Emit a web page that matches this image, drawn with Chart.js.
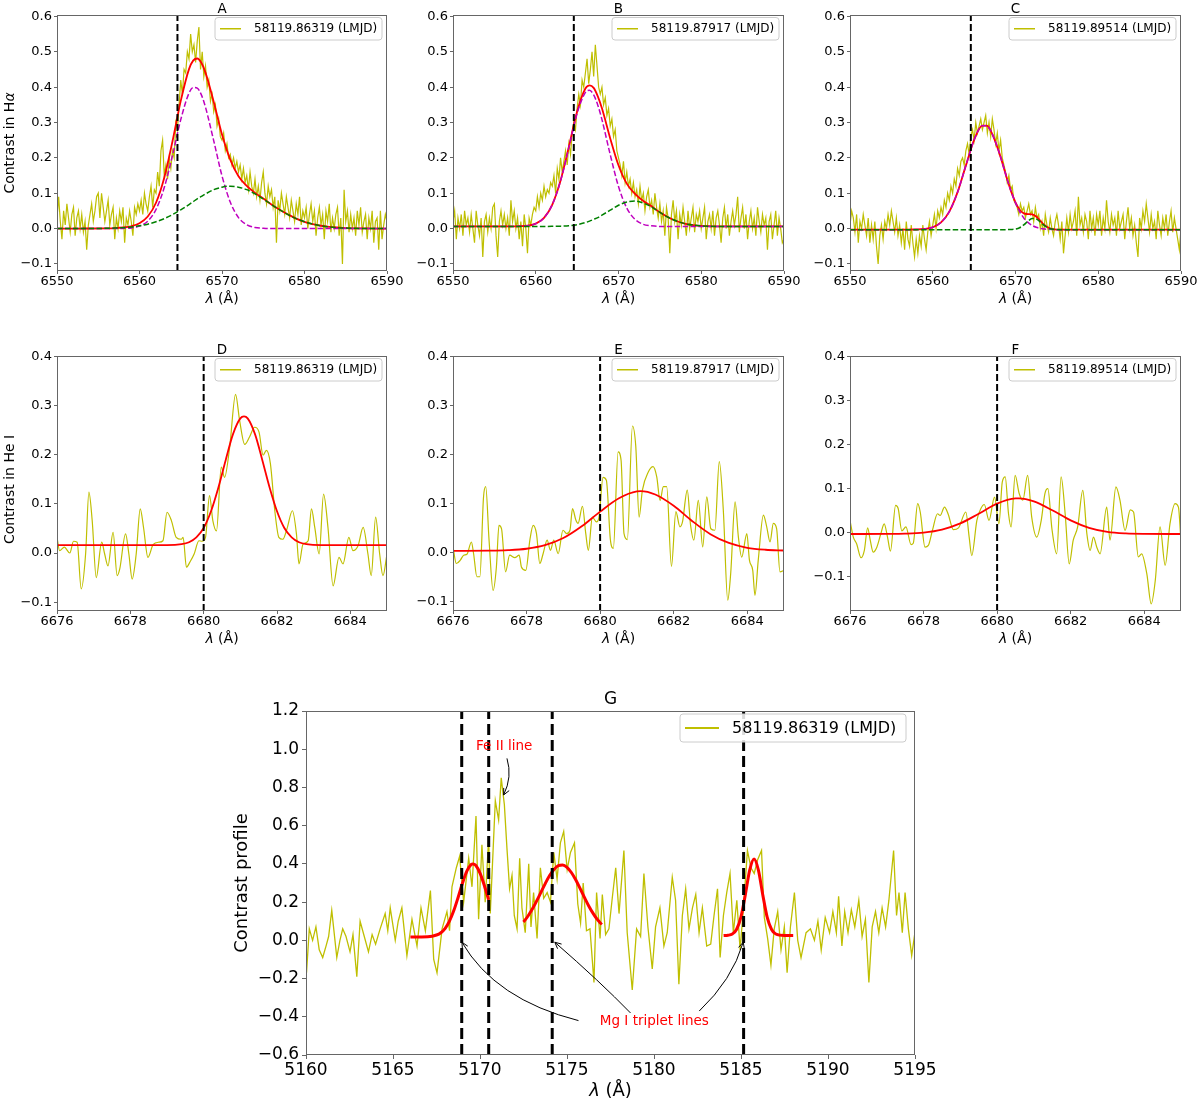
<!DOCTYPE html>
<html><head><meta charset="utf-8">
<script src="https://cdn.jsdelivr.net/npm/chart.js@4.4.1/dist/chart.umd.min.js"></script>
<style>html,body{margin:0;padding:0;background:#fff;overflow:hidden}#fig{position:relative;width:1200px;height:1105px;background:#fff}</style>
</head><body><div id="fig"></div>
<script>
// ---------------- DATA ----------------
const legendText = ['58119.86319 (LMJD)', '58119.87917 (LMJD)', '58119.89514 (LMJD)'];
const titles = ['A','B','C','D','E','F','G'];

// H-alpha panels: contrast sampled every 0.2 Å starting at 6550 Å
const haStart = 6550, haStep = 0.2;
const haA = [
 0.03,0.09,0.02,-0.03,0.05,0.01,0.07,0.03,-0.01,0.04,
 0.06,-0.02,0.03,0.05,0.0,0.04,-0.01,0.02,-0.06,0.01,
 0.04,0.07,0.02,0.05,0.09,0.1,0.03,0.1,0.06,0.02,
 0.05,0.08,0.01,0.04,0.06,-0.03,0.03,0.0,0.05,0.02,
 0.06,-0.04,0.03,0.01,0.05,0.02,-0.02,0.06,0.04,0.07,
 0.05,0.08,0.04,0.1,0.07,0.05,0.09,0.12,0.06,0.11,
 0.1,0.16,0.12,0.22,0.25,0.15,0.18,0.14,0.2,0.17,
 0.22,0.2,0.3,0.28,0.35,0.42,0.38,0.45,0.44,0.5,
 0.48,0.55,0.5,0.52,0.47,0.53,0.57,0.45,0.5,0.43,
 0.46,0.4,0.42,0.36,0.38,0.33,0.35,0.29,0.31,0.26,
 0.25,0.27,0.22,0.24,0.2,0.21,0.18,0.2,0.17,0.19,
 0.16,0.18,0.14,0.17,0.13,0.15,0.11,0.16,0.12,0.1,
 0.14,0.09,0.12,0.08,0.13,0.16,0.1,0.07,0.12,0.09,
 0.11,0.06,0.09,-0.04,0.08,0.05,0.1,0.07,0.04,0.09,
 0.06,0.03,0.08,0.05,0.02,0.07,0.04,0.09,0.01,0.05,
 0.03,0.06,0.0,0.04,0.07,0.02,0.05,-0.02,0.03,0.06,
 0.01,0.04,-0.03,0.05,0.02,0.07,-0.01,0.03,0.0,0.04,
 0.06,-0.02,0.03,-0.1,0.11,0.02,0.05,-0.01,0.04,0.0,
 0.03,-0.02,0.05,0.01,0.06,-0.01,0.02,0.04,-0.03,0.03,
 0.0,0.05,-0.04,0.02,0.03,-0.06,0.05,-0.03,0.01,0.04,
 0.02];
const haB = [
 0.02,0.05,-0.03,0.03,0.0,0.04,-0.02,0.05,0.01,0.03,
 -0.01,0.04,0.0,-0.04,0.05,0.01,-0.02,0.03,-0.08,0.02,
 0.04,-0.01,0.03,0.0,0.06,0.07,-0.02,-0.08,0.02,0.05,
 0.01,0.04,0.0,0.03,-0.02,0.08,0.02,0.05,0.0,0.03,
 -0.03,0.02,-0.05,0.04,0.0,-0.07,0.03,0.01,0.04,0.06,
 0.05,0.09,0.06,0.1,0.08,0.12,0.09,0.11,0.1,0.13,
 0.12,0.15,0.1,0.17,0.14,0.2,0.16,0.19,0.22,0.18,
 0.24,0.21,0.27,0.3,0.28,0.34,0.38,0.35,0.42,0.4,
 0.44,0.48,0.41,0.45,0.5,0.43,0.52,0.46,0.4,0.38,
 0.4,0.35,0.37,0.32,0.34,0.29,0.31,0.26,0.28,0.22,
 0.2,0.18,0.15,0.19,0.13,0.16,0.12,0.14,0.1,0.13,
 0.09,0.11,0.07,0.12,0.08,0.1,0.05,0.09,0.11,0.06,
 0.08,0.04,0.1,0.06,0.03,0.07,0.02,0.05,-0.02,0.06,
 0.03,-0.07,0.04,0.08,0.02,0.05,-0.03,0.04,0.01,0.06,
 0.02,-0.02,0.05,0.0,0.03,0.06,-0.01,0.04,0.02,0.05,
 0.0,0.03,0.06,-0.03,0.02,0.04,0.0,0.05,-0.02,0.03,
 0.05,0.01,-0.04,0.03,0.06,0.0,0.04,-0.02,0.02,0.05,
 0.01,0.04,0.09,-0.01,0.03,0.06,0.0,0.04,-0.03,0.02,
 0.05,0.0,0.03,-0.02,0.06,0.02,-0.01,0.04,0.01,0.03,
 -0.06,0.02,0.04,-0.03,0.01,0.05,-0.02,0.03,0.0,-0.04,
 -0.03];
const haC = [
 0.01,0.05,0.03,-0.01,0.04,-0.04,0.02,0.0,0.04,0.01,
 -0.02,0.03,-0.04,0.01,-0.03,0.02,-0.05,-0.1,-0.02,0.01,
 -0.03,0.02,0.0,0.04,0.01,0.05,0.02,-0.01,0.03,-0.02,
 0.01,-0.04,0.0,-0.06,0.02,-0.03,-0.05,0.01,-0.04,-0.08,
 -0.03,-0.07,-0.02,-0.05,0.01,-0.03,-0.06,-0.01,0.02,-0.02,
 0.01,0.04,0.0,0.05,0.03,0.06,0.04,0.08,0.06,0.1,
 0.08,0.12,0.1,0.14,0.12,0.17,0.15,0.19,0.2,0.18,
 0.22,0.24,0.21,0.26,0.28,0.25,0.3,0.27,0.29,0.31,
 0.28,0.3,0.32,0.27,0.3,0.26,0.31,0.28,0.24,0.27,
 0.22,0.25,0.2,0.18,0.16,0.13,0.15,0.11,0.12,0.08,
 0.07,0.06,0.04,0.07,0.05,0.06,0.03,0.05,0.07,0.04,
 0.05,0.02,0.06,0.03,0.04,0.0,0.02,-0.02,0.04,0.01,
 -0.01,0.03,0.0,-0.02,0.02,0.04,0.01,-0.03,0.02,-0.07,
 -0.02,0.03,-0.01,0.04,0.0,0.02,0.05,-0.02,0.09,0.01,
 0.03,-0.01,0.04,0.02,-0.03,0.05,0.0,0.03,-0.02,0.04,
 0.01,0.05,-0.02,0.03,0.0,0.08,0.02,-0.01,0.04,0.01,
 0.03,-0.02,0.05,0.0,0.02,0.04,-0.03,0.02,0.06,0.0,
 0.03,-0.02,0.01,-0.04,-0.08,0.03,0.0,0.05,0.02,0.07,
 0.03,-0.01,0.04,0.0,0.02,-0.03,0.05,0.01,-0.02,0.03,
 0.0,0.04,-0.02,0.02,0.05,-0.01,0.03,0.0,-0.03,-0.06,
 0.0];

// H-alpha fits (total = red, components = magenta / green)
const fitAB_x = [6550,6553,6556,6557,6558,6559,6560,6561,6562,6563,6564,6565,6566,6566.5,6567,6567.5,6568,6569,6570,6571,6572,6573,6574,6575,6576,6577,6578,6579,6580,6581,6582,6583,6584,6585,6587,6590];
const fitA_red = [0,0.0001,0.0007,0.0014,0.003,0.0065,0.015,0.034,0.073,0.144,0.247,0.361,0.451,0.475,0.481,0.469,0.441,0.358,0.266,0.195,0.148,0.121,0.101,0.085,0.068,0.053,0.040,0.028,0.019,0.0125,0.008,0.005,0.003,0.0014,0.0004,0];
const fitA_mag = [0,0,0,0,0.0004,0.0019,0.0069,0.021,0.054,0.116,0.207,0.308,0.383,0.399,0.397,0.378,0.343,0.248,0.149,0.075,0.031,0.011,0.003,0.001,0,0,0,0,0,0,0,0,0,0,0,0];
const fitA_grn = [0,0.0001,0.0007,0.0014,0.0026,0.0046,0.0078,0.0125,0.0192,0.028,0.0396,0.053,0.068,0.076,0.084,0.091,0.098,0.110,0.117,0.120,0.117,0.110,0.098,0.084,0.068,0.053,0.0396,0.028,0.0192,0.0125,0.0078,0.0046,0.0026,0.0014,0.0004,0];
const fitB_red = [0.006,0.006,0.006,0.006,0.0065,0.008,0.014,0.030,0.068,0.136,0.231,0.331,0.396,0.405,0.398,0.374,0.340,0.255,0.179,0.127,0.098,0.078,0.063,0.046,0.032,0.0215,0.014,0.010,0.0076,0.0066,0.006,0.006,0.006,0.006,0.006,0.006];
const fitB_mag = [0.006,0.006,0.006,0.006,0.0065,0.008,0.014,0.030,0.068,0.135,0.229,0.326,0.385,0.391,0.378,0.349,0.308,0.209,0.119,0.058,0.026,0.012,0.008,0.006,0.006,0.006,0.006,0.006,0.006,0.006,0.006,0.006,0.006,0.006,0.006,0.006];
const fitB_grn = [0.006,0.006,0.006,0.006,0.006,0.006,0.006,0.006,0.0063,0.0069,0.008,0.011,0.017,0.021,0.026,0.031,0.038,0.052,0.066,0.075,0.078,0.072,0.061,0.046,0.032,0.0215,0.014,0.010,0.0076,0.0066,0.006,0.006,0.006,0.006,0.006,0.006];
const fitC_x = [6550,6553,6556,6557,6558,6559,6560,6561,6562,6563,6564,6565,6566,6566.5,6567,6568,6569,6569.5,6570,6570.5,6571,6571.5,6572,6572.5,6573,6573.5,6574,6574.5,6575,6576,6580,6590];
const fitC_red = [-0.003,-0.003,-0.003,-0.003,-0.0026,-0.0012,0.0037,0.0174,0.048,0.103,0.178,0.251,0.291,0.291,0.277,0.217,0.139,0.103,0.074,0.053,0.043,0.041,0.040,0.034,0.022,0.010,0.0023,-0.0018,-0.003,-0.003,-0.003,-0.003];
const fitC_mag = [-0.003,-0.003,-0.003,-0.003,-0.0026,-0.0012,0.0037,0.0174,0.048,0.103,0.178,0.251,0.291,0.291,0.277,0.217,0.139,0.103,0.0726,0.048,0.030,0.0174,0.009,0.0037,0.0006,-0.0012,-0.002,-0.0026,-0.003,-0.003,-0.003,-0.003];
const fitC_grn = [-0.003,-0.003,-0.003,-0.003,-0.003,-0.003,-0.003,-0.003,-0.003,-0.003,-0.003,-0.003,-0.003,-0.003,-0.003,-0.003,-0.003,-0.0026,-0.0014,0.0024,0.0102,0.0207,0.0282,0.0273,0.0186,0.0083,0.0013,-0.0018,-0.0027,-0.003,-0.003,-0.003];

// He I panels (wavelength, contrast)
const heD_x = [6676.0,6676.07,6676.2,6676.35,6676.45,6676.55,6676.66,6676.78,6676.87,6676.96,6677.07,6677.22,6677.3,6677.39,6677.53,6677.64,6677.71,6677.87,6677.96,6678.05,6678.16,6678.27,6678.36,6678.48,6678.62,6678.78,6678.89,6679.0,6679.12,6679.25,6679.39,6679.44,6679.53,6679.62,6679.74,6679.87,6679.96,6680.05,6680.16,6680.25,6680.35,6680.48,6680.57,6680.71,6680.87,6680.98,6681.12,6681.25,6681.39,6681.51,6681.62,6681.71,6681.82,6681.94,6682.05,6682.16,6682.27,6682.42,6682.53,6682.6,6682.71,6682.85,6682.94,6683.03,6683.15,6683.27,6683.39,6683.53,6683.69,6683.8,6683.96,6684.07,6684.21,6684.35,6684.48,6684.57,6684.69,6684.8,6684.89,6685.0];
const heD_y = [0.032,0.005,0.012,0.0,0.024,0.022,-0.073,-0.002,0.124,0.066,-0.05,0.022,-0.002,-0.026,0.042,-0.046,-0.033,0.039,-0.002,-0.053,-0.002,0.09,0.052,-0.009,0.017,0.022,0.025,0.083,0.066,0.032,0.028,0.032,-0.029,-0.019,-0.002,0.025,0.024,0.032,0.117,0.066,0.045,0.175,0.154,0.216,0.323,0.27,0.221,0.236,0.256,0.246,0.199,0.209,0.182,0.086,0.032,0.028,0.049,0.086,0.039,-0.022,0.018,0.025,0.09,0.052,-0.002,0.12,0.052,-0.067,-0.009,-0.022,0.032,0.005,0.015,0.052,-0.002,-0.046,0.073,-0.002,-0.046,-0.002];
const heE_x = [6676.0,6676.09,6676.2,6676.29,6676.38,6676.5,6676.56,6676.65,6676.73,6676.83,6676.89,6676.98,6677.09,6677.18,6677.25,6677.32,6677.43,6677.54,6677.68,6677.8,6677.86,6677.98,6678.09,6678.18,6678.27,6678.36,6678.45,6678.56,6678.65,6678.74,6678.86,6678.99,6679.09,6679.18,6679.25,6679.34,6679.4,6679.52,6679.61,6679.68,6679.79,6679.9,6679.97,6680.08,6680.17,6680.28,6680.36,6680.49,6680.57,6680.65,6680.74,6680.88,6680.97,6681.06,6681.15,6681.31,6681.44,6681.54,6681.63,6681.72,6681.81,6681.94,6682.06,6682.17,6682.24,6682.37,6682.46,6682.55,6682.67,6682.79,6682.9,6683.01,6683.12,6683.24,6683.35,6683.47,6683.55,6683.67,6683.76,6683.85,6683.99,6684.06,6684.15,6684.21,6684.3,6684.44,6684.53,6684.62,6684.71,6684.8,6684.89,6685.0];
const heE_y = [0.011,-0.023,-0.016,-0.006,-0.004,0.021,-0.003,-0.05,-0.05,0.113,0.134,0.025,-0.078,-0.03,0.055,0.048,-0.04,-0.006,-0.011,-0.006,-0.03,-0.037,0.025,0.055,0.038,-0.023,-0.003,0.025,0.004,0.025,-0.003,0.045,0.038,0.045,0.089,0.066,0.059,0.094,0.038,0.004,0.072,0.062,0.072,0.153,0.147,0.025,0.008,0.205,0.188,0.038,0.026,0.258,0.216,0.072,0.127,0.164,0.175,0.154,0.106,0.134,0.134,-0.029,0.083,0.052,0.062,0.127,0.055,0.025,0.106,0.011,0.113,0.048,0.045,0.185,0.086,-0.098,-0.044,0.103,0.031,-0.01,0.038,-0.016,-0.037,-0.088,-0.016,0.076,0.052,0.021,0.059,0.048,-0.04,-0.037];
const heF_x = [6676.0,6676.09,6676.18,6676.3,6676.39,6676.48,6676.55,6676.63,6676.73,6676.84,6676.93,6677.02,6677.1,6677.24,6677.31,6677.41,6677.52,6677.66,6677.72,6677.84,6677.91,6678.04,6678.13,6678.24,6678.38,6678.45,6678.57,6678.67,6678.81,6678.95,6679.15,6679.24,6679.31,6679.45,6679.56,6679.65,6679.78,6679.93,6680.05,6680.14,6680.22,6680.31,6680.38,6680.49,6680.6,6680.7,6680.83,6680.94,6681.08,6681.2,6681.3,6681.38,6681.49,6681.62,6681.74,6681.85,6681.96,6682.07,6682.19,6682.33,6682.44,6682.53,6682.62,6682.71,6682.8,6682.98,6683.07,6683.23,6683.34,6683.48,6683.62,6683.71,6683.84,6683.93,6684.07,6684.19,6684.3,6684.43,6684.57,6684.7,6684.84,6684.93,6685.0];
const heF_y = [0.028,-0.01,-0.025,-0.057,-0.04,0.011,-0.017,-0.044,-0.033,-0.002,0.02,-0.01,-0.042,0.062,0.055,0.004,0.013,-0.027,-0.024,0.066,0.047,-0.033,-0.029,0.005,0.043,0.039,0.058,0.042,0.007,0.011,0.047,-0.01,-0.052,0.028,0.055,0.064,0.028,0.081,0.02,0.115,0.127,0.043,0.013,0.13,0.089,0.074,0.13,0.036,-0.01,0.028,0.089,0.1,0.009,-0.048,0.127,0.043,-0.071,-0.017,0.013,0.096,-0.002,-0.04,-0.01,-0.033,-0.048,0.058,-0.017,0.104,0.074,0.005,0.052,0.047,-0.055,-0.048,-0.093,-0.162,-0.109,0.013,-0.074,0.02,0.066,0.058,-0.021];

// He I Gaussian fits
const fitD_x = [6676,6679,6679.4,6679.6,6679.8,6680.0,6680.2,6680.4,6680.6,6680.8,6681.0,6681.1,6681.2,6681.4,6681.6,6681.8,6682.0,6682.2,6682.4,6682.6,6682.8,6683.2,6685];
const fitD_y = [0.016,0.016,0.018,0.022,0.032,0.051,0.085,0.133,0.189,0.242,0.274,0.278,0.274,0.242,0.189,0.133,0.085,0.051,0.032,0.022,0.018,0.016,0.016];
const fitE_x = [6676,6677,6677.5,6678,6678.5,6679,6679.5,6680,6680.5,6681,6681.1,6681.5,6682,6682.5,6683,6683.5,6684,6684.5,6685];
const fitE_y = [0.003,0.0033,0.0043,0.0072,0.0144,0.029,0.053,0.083,0.110,0.1246,0.125,0.118,0.095,0.064,0.037,0.019,0.0092,0.0051,0.0036];
const fitF_x = [6676,6677,6677.5,6678,6678.5,6679,6679.5,6680,6680.5,6680.6,6681,6681.5,6682,6682.5,6683,6683.5,6684,6685];
const fitF_y = [-0.003,-0.0028,-0.0022,0.0002,0.007,0.021,0.043,0.066,0.0778,0.078,0.071,0.051,0.028,0.011,0.0018,-0.0017,-0.0027,-0.003];

// Mg I triplet region (panel G)
const gX = [5160.03,5160.19,5160.38,5160.57,5160.76,5160.96,5161.15,5161.3,5161.48,5161.77,
 5161.95,5162.11,5162.3,5162.53,5162.7,5162.92,5163.11,5163.35,5163.59,5163.8,
 5164.0,5164.26,5164.55,5164.7,5164.84,5165.13,5165.3,5165.51,5165.8,5166.09,
 5166.38,5166.61,5166.86,5167.15,5167.34,5167.53,5167.82,5168.1,5168.25,5168.39,
 5168.64,5168.83,5169.06,5169.35,5169.54,5169.77,5169.92,5170.11,5170.3,5170.5,
 5170.59,5170.88,5171.07,5171.22,5171.4,5171.55,5171.7,5171.84,5171.97,5172.13,
 5172.28,5172.41,5172.6,5172.8,5172.93,5173.08,5173.28,5173.47,5173.66,5173.86,
 5174.05,5174.24,5174.43,5174.62,5174.81,5175.01,5175.2,5175.43,5175.62,5175.78,
 5175.93,5176.12,5176.32,5176.55,5176.7,5176.9,5177.03,5177.22,5177.41,5177.6,
 5177.8,5177.99,5178.27,5178.46,5178.75,5179.0,5179.23,5179.42,5179.65,5179.9,
 5180.09,5180.34,5180.57,5180.76,5181.05,5181.24,5181.43,5181.63,5181.82,5182.01,
 5182.21,5182.4,5182.59,5182.78,5183.03,5183.26,5183.45,5183.65,5183.8,5183.99,
 5184.18,5184.37,5184.56,5184.76,5184.95,5185.14,5185.37,5185.57,5185.76,5185.95,
 5186.18,5186.34,5186.53,5186.72,5186.91,5187.11,5187.3,5187.49,5187.65,5187.84,
 5188.07,5188.26,5188.45,5188.74,5188.99,5189.22,5189.42,5189.61,5189.84,5190.09,
 5190.28,5190.48,5190.61,5190.8,5190.96,5191.15,5191.34,5191.54,5191.77,5191.96,
 5192.15,5192.35,5192.54,5192.73,5192.92,5193.11,5193.31,5193.5,5193.77,5193.94,
 5194.08,5194.27,5194.43,5194.62,5194.81,5195.04];
const gY = [-0.17,0.06,0.0,0.07,-0.05,-0.09,-0.03,0.02,0.157,-0.09,
 0.0,0.06,0.02,-0.06,0.03,-0.19,0.1,0.02,-0.06,0.03,
 -0.02,0.06,0.14,0.05,0.17,0.0,0.1,0.17,-0.08,0.11,
 -0.03,0.17,0.05,0.26,-0.1,-0.17,0.06,0.15,0.05,0.28,
 0.38,0.44,0.2,0.43,0.28,0.65,0.11,0.5,0.2,0.54,
 0.14,0.73,0.63,0.85,0.71,0.48,0.27,0.34,0.13,0.06,
 0.43,0.17,0.04,0.4,0.07,0.25,0.01,0.38,0.22,0.25,
 0.2,0.46,0.32,0.51,0.57,0.37,0.46,0.51,0.19,0.09,
 0.3,0.05,0.06,-0.22,0.25,0.01,0.24,0.03,0.06,0.22,
 0.38,0.14,0.47,0.04,-0.26,0.06,0.02,0.35,0.07,-0.15,
 0.07,0.17,-0.03,0.04,0.33,0.21,-0.23,0.13,0.27,0.06,
 0.17,0.24,0.04,0.17,-0.03,-0.02,0.13,0.27,-0.09,0.13,
 0.25,0.35,0.04,0.21,-0.05,0.17,0.47,0.38,0.35,0.42,
 0.47,0.12,0.01,-0.13,0.06,0.15,-0.05,0.07,-0.17,0.07,
 0.25,0.0,-0.09,0.04,0.06,0.0,0.1,-0.05,0.12,0.04,
 0.15,0.04,0.23,-0.03,0.15,0.04,0.16,0.07,0.21,0.02,
 0.11,-0.22,0.07,0.15,0.04,0.17,0.07,0.21,0.47,0.13,
 0.25,0.04,0.25,0.06,-0.08,0.07];
const gFit1_x = [5166,5167,5167.5,5167.75,5168,5168.25,5168.5,5168.75,5169,5169.25,5169.5,5169.6,5169.75,5170,5170.25,5170.5];
const gFit1_y = [0.018,0.019,0.028,0.040,0.063,0.102,0.157,0.227,0.301,0.363,0.397,0.400,0.393,0.352,0.287,0.212];
const gFit2_x = [5172.5,5172.75,5173,5173.25,5173.5,5173.75,5174,5174.25,5174.5,5174.75,5175,5175.25,5175.5,5175.75,5176,5176.25,5176.5,5176.75,5177];
const gFit2_y = [0.096,0.126,0.162,0.205,0.251,0.297,0.339,0.371,0.391,0.394,0.382,0.355,0.317,0.272,0.225,0.180,0.141,0.108,0.083];
const gFit3_x = [5184,5184.25,5184.5,5184.75,5185,5185.25,5185.5,5185.75,5186,5186.25,5186.5,5186.75,5187,5187.5,5188];
const gFit3_y = [0.025,0.0265,0.033,0.058,0.123,0.239,0.367,0.425,0.367,0.239,0.123,0.058,0.033,0.025,0.025];

// reference line positions and ticks
const vlinesHa = [6564.6];
const vlinesHe = [6680.0];
const vlinesG = [5168.95, 5170.5, 5174.15, 5185.15];
const haXTicks = [6550,6560,6570,6580,6590];
const haYTicks = [-0.1,0,0.1,0.2,0.3,0.4,0.5,0.6];
const heXTicks = [6676,6678,6680,6682,6684];
const heYTicks = [-0.1,0,0.1,0.2,0.3,0.4];
const gXTicks = [5160,5165,5170,5175,5180,5185,5190,5195];
const gYTicks = [-0.6,-0.4,-0.2,0,0.2,0.4,0.6,0.8,1.0,1.2];

// ---------------- DRAWING ----------------
const FONT = "'DejaVu Sans', 'Liberation Sans', sans-serif";
const YEL='#bfbf00', RED='#ff0000', MAG='#bf00bf', GRN='#008000', AX='#666666';
const fig = document.getElementById('fig');
const grid = (start, step, n) => Array.from({length:n}, (_, i) => Math.round((start + step*i)*100)/100);
const pts = (xs, ys) => xs.map((x, i) => ({x, y: ys[i]}));
const fmt = (v, d) => (Math.abs(v) < 1e-9 ? 0 : v).toFixed(d).replace('-', '\u2212');
const haGrid = grid(haStart, haStep, haA.length);

function drawSegs(ctx, segs, x, y, size) {
  const ws = segs.map(([t, it]) => { ctx.font = (it ? 'italic ' : '') + size + 'px ' + FONT; return ctx.measureText(t).width; });
  let cx = x - ws.reduce((a, b) => a + b, 0) / 2;
  ctx.textAlign = 'left'; ctx.textBaseline = 'middle';
  segs.forEach(([t, it], i) => { ctx.font = (it ? 'italic ' : '') + size + 'px ' + FONT; ctx.fillText(t, cx, y); cx += ws[i]; });
}
function rr(ctx, x, y, w, h, r) {
  ctx.beginPath(); ctx.moveTo(x + r, y); ctx.lineTo(x + w - r, y); ctx.arcTo(x + w, y, x + w, y + r, r);
  ctx.lineTo(x + w, y + h - r); ctx.arcTo(x + w, y + h, x + w - r, y + h, r); ctx.lineTo(x + r, y + h);
  ctx.arcTo(x, y + h, x, y + h - r, r); ctx.lineTo(x, y + r); ctx.arcTo(x, y, x + r, y, r); ctx.closePath();
}

const deco = {
  id: 'deco',
  afterDraw(chart, args, o) {
    const ctx = chart.ctx, a = chart.chartArea, sx = chart.scales.x, sy = chart.scales.y;
    ctx.save();
    // annotations (panel G)
    (o.arrows || []).forEach(ar => {
      const P = p => [sx.getPixelForValue(p[0]), sy.getPixelForValue(p[1])];
      const s = P(ar.s), c = P(ar.c), e = P(ar.e);
      ctx.strokeStyle = '#000'; ctx.lineWidth = 1; ctx.setLineDash([]);
      ctx.beginPath(); ctx.moveTo(s[0], s[1]); ctx.quadraticCurveTo(c[0], c[1], e[0], e[1]); ctx.stroke();
      const ang = Math.atan2(e[1] - c[1], e[0] - c[0]), hl = 7, hw = 0.45;
      ctx.beginPath();
      ctx.moveTo(e[0] - hl * Math.cos(ang - hw), e[1] - hl * Math.sin(ang - hw));
      ctx.lineTo(e[0], e[1]);
      ctx.lineTo(e[0] - hl * Math.cos(ang + hw), e[1] - hl * Math.sin(ang + hw));
      ctx.stroke();
    });
    (o.notes || []).forEach(n => {
      ctx.fillStyle = RED;
      drawSegs(ctx, [[n.text, false]], sx.getPixelForValue(n.x), sy.getPixelForValue(n.y), o.noteSize);
    });
    // frame
    ctx.strokeStyle = AX; ctx.lineWidth = 1; ctx.setLineDash([]);
    ctx.strokeRect(Math.round(a.left) + 0.5, Math.round(a.top) + 0.5, Math.round(a.right - a.left) - 1, Math.round(a.bottom - a.top) - 1);
    // title and axis labels
    ctx.fillStyle = '#000';
    const cx = (a.left + a.right) / 2, cy = (a.top + a.bottom) / 2;
    drawSegs(ctx, [[o.title, false]], cx, a.top + o.titleDy, o.titleSize);
    drawSegs(ctx, [['\u03bb', true], [' (\u00c5)', false]], cx, a.bottom + o.xlabelDy, o.labelSize);
    if (o.ylabel) {
      ctx.save(); ctx.translate(a.left + o.ylabelDx, cy + (o.ylabelShift || 0)); ctx.rotate(-Math.PI / 2);
      drawSegs(ctx, o.ylabel, 0, 0, o.labelSize); ctx.restore();
    }
    // legend
    const L = o.legend, bx = a.right - L.dr - L.w, by = a.top + L.dt;
    rr(ctx, bx, by, L.w, L.h, 3);
    ctx.fillStyle = 'rgba(255,255,255,0.85)'; ctx.fill();
    ctx.strokeStyle = '#cccccc'; ctx.lineWidth = 1; ctx.stroke();
    ctx.strokeStyle = YEL; ctx.lineWidth = L.lw; ctx.beginPath();
    ctx.moveTo(bx + L.l0, by + L.h / 2); ctx.lineTo(bx + L.l1, by + L.h / 2); ctx.stroke();
    ctx.fillStyle = '#000'; ctx.font = L.size + 'px ' + FONT; ctx.textAlign = 'left'; ctx.textBaseline = 'middle';
    ctx.fillText(L.text, bx + L.tx, by + L.h / 2 + 0.5);
    ctx.restore();
  }
};

const SMALL = {ML:57, MT:15, MR:30, MB:44, tick:13, tl:3, xpad:0, ypad:2, dataW:1.2, fitW:1.8, dashW:1.5, dash:[5.5,2.4], vW:2, vDash:[7,3],
  titleSize:13.5, labelSize:14, titleDy:-6, xlabelDy:28, ylabelDx:-47,
  legend:{w:167, h:22.5, dt:2.5, dr:5, l0:5, l1:26, tx:39, size:12, lw:1.5}};
const BIG = {ML:75, MT:20, MR:30, MB:50, tick:17, tl:4, xpad:1, ypad:3, dataW:1.3, fitW:3, dashW:1.5, dash:[5.5,2.4], vW:3, vDash:[11,5],
  titleSize:17, labelSize:18, titleDy:-11, xlabelDy:36, ylabelDx:-63.5,
  legend:{w:226, h:28, dt:3, dr:9, l0:5, l1:39, tx:52, size:16, lw:2}};

function makePanel(p) {
  const S = p.S, MR = p.MR || S.MR;
  const cl = p.l - S.ML, ct = p.t - S.MT, cw = p.r + MR - cl, ch = p.b + S.MB - ct;
  const cv = document.createElement('canvas');
  cv.width = cw; cv.height = ch;
  cv.style.cssText = `position:absolute;left:${cl}px;top:${ct}px;width:${cw}px;height:${ch}px;`;
  fig.appendChild(cv);
  const ds = [];
  ds.push({data: p.data, borderColor: YEL, borderWidth: S.dataW, pointRadius: 0, tension: 0,
    cubicInterpolationMode: p.smooth ? 'monotone' : 'default', order: 10});
  p.fits.forEach((f, i) => ds.push({data: f.data, borderColor: f.color, borderWidth: f.dashed ? S.dashW : S.fitW,
    borderDash: f.dashed ? S.dash : [], pointRadius: 0, cubicInterpolationMode: 'monotone', order: 5 - i}));
  p.vlines.forEach(v => ds.push({data: [{x: v, y: p.yr[0]}, {x: v, y: p.yr[1]}], borderColor: '#000',
    borderWidth: S.vW, borderDash: S.vDash, pointRadius: 0, order: 0}));
  const tickFont = {family: FONT, size: S.tick};
  new Chart(cv, {
    type: 'line',
    data: {datasets: ds},
    options: {
      responsive: false, animation: false, events: [],
      layout: {padding: {left: 0, top: S.MT, right: MR, bottom: 0}},
      plugins: {legend: {display: false}, tooltip: {enabled: false},
        deco: {title: p.title, ylabel: p.ylabel, ylabelShift: p.ylabelShift, titleSize: S.titleSize, labelSize: S.labelSize,
          titleDy: S.titleDy, xlabelDy: S.xlabelDy, ylabelDx: S.ylabelDx,
          legend: Object.assign({text: p.legend}, S.legend), notes: p.notes, arrows: p.arrows, noteSize: 13.5}},
      scales: {
        x: {type: 'linear', min: p.xr[0], max: p.xr[1], bounds: 'data',
          afterBuildTicks: ax => { ax.ticks = p.xt.map(v => ({value: v})); },
          afterFit: ax => { ax.height = S.MB; },
          grid: {display: true, drawOnChartArea: false, drawTicks: true, tickLength: S.tl, tickColor: AX},
          border: {display: false},
          ticks: {padding: S.xpad, color: '#000', font: tickFont, maxRotation: 0, minRotation: 0, autoSkip: false,
            callback: v => fmt(v, 0)}},
        y: {type: 'linear', min: p.yr[0], max: p.yr[1], bounds: 'data',
          afterBuildTicks: ax => { ax.ticks = p.yt.map(v => ({value: v})); },
          afterFit: ax => { ax.width = S.ML; },
          grid: {display: true, drawOnChartArea: false, drawTicks: true, tickLength: S.tl, tickColor: AX},
          border: {display: false},
          ticks: {padding: S.ypad, color: '#000', font: tickFont, autoSkip: false, callback: v => fmt(v, 1)}}
      }
    },
    plugins: [deco]
  });
}

const haLabel = [['Contrast in H', false], ['\u03b1', true]];
const heLabel = [['Contrast in He I', false]];
const haFits = (x, r, m, g) => [
  {data: pts(x, r), color: RED}, {data: pts(x, m), color: MAG, dashed: true}, {data: pts(x, g), color: GRN, dashed: true}];

const panels = [
  {title: titles[0], S: SMALL, l: 57, t: 15, r: 387, b: 271, xr: [6550, 6590], yr: [-0.12, 0.604], xt: haXTicks, yt: haYTicks,
   data: pts(haGrid, haA), fits: haFits(fitAB_x, fitA_red, fitA_mag, fitA_grn), vlines: vlinesHa, legend: legendText[0], ylabel: haLabel},
  {title: titles[1], S: SMALL, l: 453, t: 15, r: 784, b: 271, xr: [6550, 6590], yr: [-0.12, 0.604], xt: haXTicks, yt: haYTicks,
   data: pts(haGrid, haB), fits: haFits(fitAB_x, fitB_red, fitB_mag, fitB_grn), vlines: vlinesHa, legend: legendText[1]},
  {title: titles[2], S: SMALL, MR: 19, l: 850, t: 15, r: 1181, b: 271, xr: [6550, 6590], yr: [-0.12, 0.604], xt: haXTicks, yt: haYTicks,
   data: pts(haGrid, haC), fits: haFits(fitC_x, fitC_red, fitC_mag, fitC_grn), vlines: vlinesHa, legend: legendText[2]},
  {title: titles[3], S: SMALL, l: 57, t: 356, r: 387, b: 611, xr: [6676, 6685], yr: [-0.118, 0.401], xt: heXTicks, yt: heYTicks, smooth: true,
   data: pts(heD_x, heD_y), fits: [{data: pts(fitD_x, fitD_y), color: RED}], vlines: vlinesHe, legend: legendText[0], ylabel: heLabel, ylabelShift: 6},
  {title: titles[4], S: SMALL, l: 453, t: 356, r: 784, b: 611, xr: [6676, 6685], yr: [-0.12, 0.401], xt: heXTicks, yt: heYTicks, smooth: true,
   data: pts(heE_x, heE_y), fits: [{data: pts(fitE_x, fitE_y), color: RED}], vlines: vlinesHe, legend: legendText[1]},
  {title: titles[5], S: SMALL, MR: 19, l: 850, t: 356, r: 1181, b: 611, xr: [6676, 6685], yr: [-0.178, 0.4015], xt: heXTicks, yt: heYTicks, smooth: true,
   data: pts(heF_x, heF_y), fits: [{data: pts(fitF_x, fitF_y), color: RED}], vlines: vlinesHe, legend: legendText[2]},
  {title: titles[6], S: BIG, l: 306, t: 711, r: 915, b: 1055, xr: [5160, 5195], yr: [-0.6, 1.2], xt: gXTicks, yt: gYTicks,
   data: pts(gX, gY), fits: [{data: pts(gFit1_x, gFit1_y), color: RED}, {data: pts(gFit2_x, gFit2_y), color: RED}, {data: pts(gFit3_x, gFit3_y), color: RED}],
   vlines: vlinesG, legend: legendText[0], ylabel: [['Contrast profile', false]],
   notes: [{text: 'Fe II line', x: 5171.39, y: 1.013}, {text: 'Mg I triplet lines', x: 5180.02, y: -0.423}],
   arrows: [
     {s: [5171.55, 0.952], c: [5171.87, 0.855], e: [5171.36, 0.761]},
     {s: [5175.66, -0.42], c: [5170.88, -0.31], e: [5168.96, -0.01]},
     {s: [5178.65, -0.38], c: [5176.9, -0.216], e: [5174.3, -0.01]},
     {s: [5182.6, -0.37], c: [5184.49, -0.208], e: [5185.13, -0.01]}]}
];
panels.forEach(makePanel);
</script></body></html>
